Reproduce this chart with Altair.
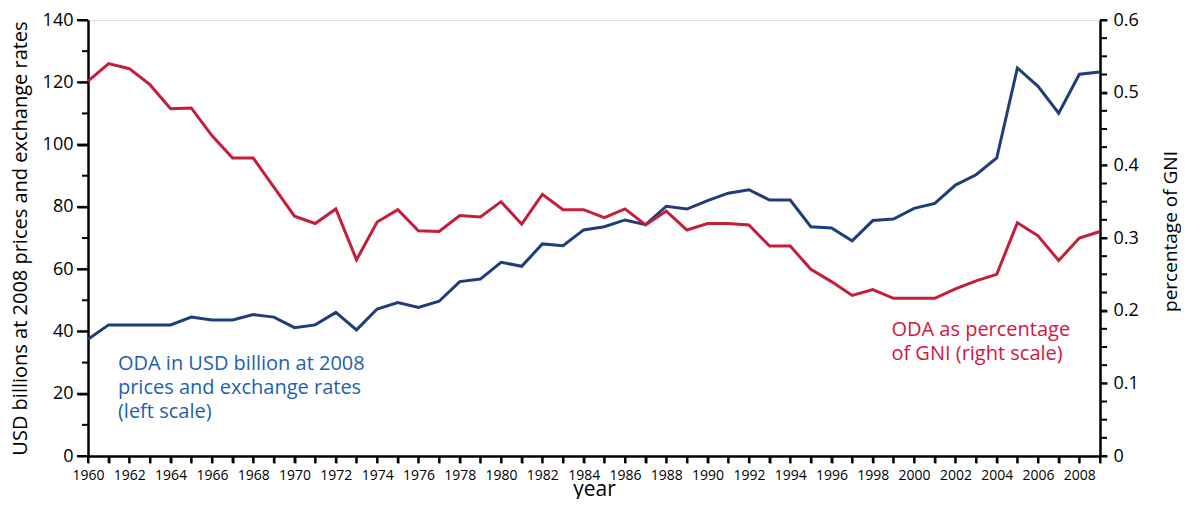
import altair as alt
import pandas as pd

years = list(range(1960, 2010))
oda_usd = [37.5, 42.1, 42.1, 42.1, 42.1, 44.6, 43.7, 43.7, 45.4, 44.6,
           41.2, 42.1, 46.1, 40.5, 47.2, 49.3, 47.7, 49.7, 56.0, 56.8,
           62.2, 60.9, 68.1, 67.5, 72.6, 73.6, 75.8, 74.3, 80.2, 79.3,
           82.0, 84.4, 85.5, 82.2, 82.2, 73.6, 73.2, 69.1, 75.6, 76.1,
           79.5, 81.1, 87.0, 90.3, 95.7, 124.6, 118.7, 110.1, 122.6, 123.3]
oda_gni = [0.516, 0.540, 0.533, 0.511, 0.478, 0.479, 0.441, 0.410, 0.410, 0.370,
           0.330, 0.320, 0.340, 0.270, 0.322, 0.339, 0.310, 0.309, 0.331, 0.329,
           0.350, 0.319, 0.360, 0.339, 0.339, 0.328, 0.340, 0.318, 0.337, 0.311,
           0.320, 0.320, 0.318, 0.289, 0.289, 0.257, 0.240, 0.221, 0.229, 0.217,
           0.217, 0.217, 0.230, 0.241, 0.250, 0.321, 0.303, 0.269, 0.300, 0.309]

left_major = [0, 20, 40, 60, 80, 100, 120, 140]
left_minor = [10, 30, 50, 70, 90, 110, 130]
right_ticks = [round(i * 0.025, 3) for i in range(25)]

blue_label = ["ODA in USD billion at 2008", "prices and exchange rates", "(left scale)"]
blue_label_pos = [1961.45, 27.6]
red_label = ["ODA as percentage", "of GNI (right scale)"]
red_label_pos = [1998.9, 0.165]

FONT = "Open Sans"
BLUE_LINE = "#1f3d7a"
RED_LINE = "#c41e3a"
BLUE_TEXT = "#1d5fae"
RED_TEXT = "#d3173d"

df = pd.DataFrame({"year": years, "usd": oda_usd, "gni": oda_gni})
blue_df = pd.DataFrame({"year": [blue_label_pos[0]], "v": [blue_label_pos[1]], "t": [blue_label]})
red_df = pd.DataFrame({"year": [red_label_pos[0]], "v": [red_label_pos[1]], "t": [red_label]})
lmaj_df = pd.DataFrame({"year": [1960] * len(left_major), "v": left_major})
lmin_df = pd.DataFrame({"year": [1960] * len(left_minor), "v": left_minor})
rt_df = pd.DataFrame({"year": [2009] * len(right_ticks), "v": right_ticks})

W, H = 1012, 436
x_scale = alt.Scale(domain=[1960, 2009], nice=False, zero=False)
ls = alt.Scale(domain=[0, 140], nice=False)
rs = alt.Scale(domain=[0, 0.6], nice=False)

x_axis = alt.Axis(
    title="year", values=years, format="d",
    labelExpr="datum.value % 2 === 0 && datum.value < 2009 ? datum.label : ''",
    tickSize=7, tickWidth=2, tickColor="black", labelPadding=5, labelFontSize=14, labelFont=FONT,
    labelFlush=False,
    titleFontSize=21, titleFont=FONT, titleFontWeight="normal",
    titleY=39, titleBaseline="alphabetic", domainWidth=2.5, domainColor="black",
    labelColor="black", labelOverlap=False, grid=False,
)

left_axis = alt.Axis(
    title="USD billions at 2008 prices and exchange rates", orient="left",
    values=left_major,
    tickSize=11, tickWidth=2, tickColor="black", labelPadding=4, labelFontSize=18, labelFont=FONT,
    labelFlush=False,
    titleFontSize=20, titleFont=FONT, titleFontWeight="normal",
    titleX=-68, titleAngle=270, titleBaseline="middle", titleAlign="center",
    domainWidth=2.5, domainColor="black", labelColor="black",
    grid=False, labelOverlap=False,
)

right_axis = alt.Axis(
    title="percentage of GNI", orient="right", values=right_ticks, format="~g",
    labelExpr="round(datum.value * 1000) % 50 === 0 ? datum.label : ''",
    tickSize=7, tickWidth=2, tickColor="black", labelPadding=6, labelFontSize=18, labelFont=FONT,
    labelFlush=False,
    titleFontSize=19, titleFont=FONT, titleFontWeight="normal",
    titleX=70, titleY=211, titleAngle=270, titleBaseline="middle", titleAlign="center",
    domainWidth=2.5, domainColor="black", labelColor="black",
    grid=False, labelOverlap=False,
)

# tick marks drawn from the tick value lists through the scales
x_ticks = alt.Chart(df).mark_rule(color="black", strokeWidth=2).encode(
    y=alt.value(H), y2=alt.value(H + 7),
)
lmaj_ticks = alt.Chart(lmaj_df).mark_rule(color="black", strokeWidth=2).encode(
    y=alt.Y("v:Q", scale=ls), x=alt.value(0), x2=alt.value(-11),
)
lmin_ticks = alt.Chart(lmin_df).mark_rule(color="black", strokeWidth=2).encode(
    y=alt.Y("v:Q", scale=ls), x=alt.value(0), x2=alt.value(-6),
)
r_ticks = alt.Chart(rt_df).mark_rule(color="black", strokeWidth=2).encode(
    y=alt.Y("v:Q", scale=rs), x=alt.value(W), x2=alt.value(W + 7),
)

blue_line = alt.Chart(df).mark_line(color=BLUE_LINE, strokeWidth=3).encode(
    y=alt.Y("usd:Q", scale=ls, axis=left_axis),
)
blue_text = alt.Chart(blue_df).mark_text(
    align="left", baseline="alphabetic", font=FONT, fontSize=20, lineHeight=24, color=BLUE_TEXT
).encode(
    y=alt.Y("v:Q", scale=ls),
    text="t",
)
red_line = alt.Chart(df).mark_line(color=RED_LINE, strokeWidth=3).encode(
    y=alt.Y("gni:Q", scale=rs, axis=right_axis),
)
red_text = alt.Chart(red_df).mark_text(
    align="left", baseline="alphabetic", font=FONT, fontSize=20, lineHeight=24, color=RED_TEXT
).encode(
    y=alt.Y("v:Q", scale=rs),
    text="t",
)

left = alt.layer(blue_line, blue_text, lmaj_ticks, lmin_ticks, x_ticks)
right = alt.layer(red_line, red_text, r_ticks)

chart = alt.layer(left, right).encode(
    x=alt.X("year:Q", scale=x_scale, axis=x_axis),
).resolve_scale(y="independent").properties(
    width=W, height=H,
    padding={"left": 1, "top": 3, "right": 1, "bottom": 0},
)

chart.save("out.html", embed_options={"renderer": "svg", "actions": False})
